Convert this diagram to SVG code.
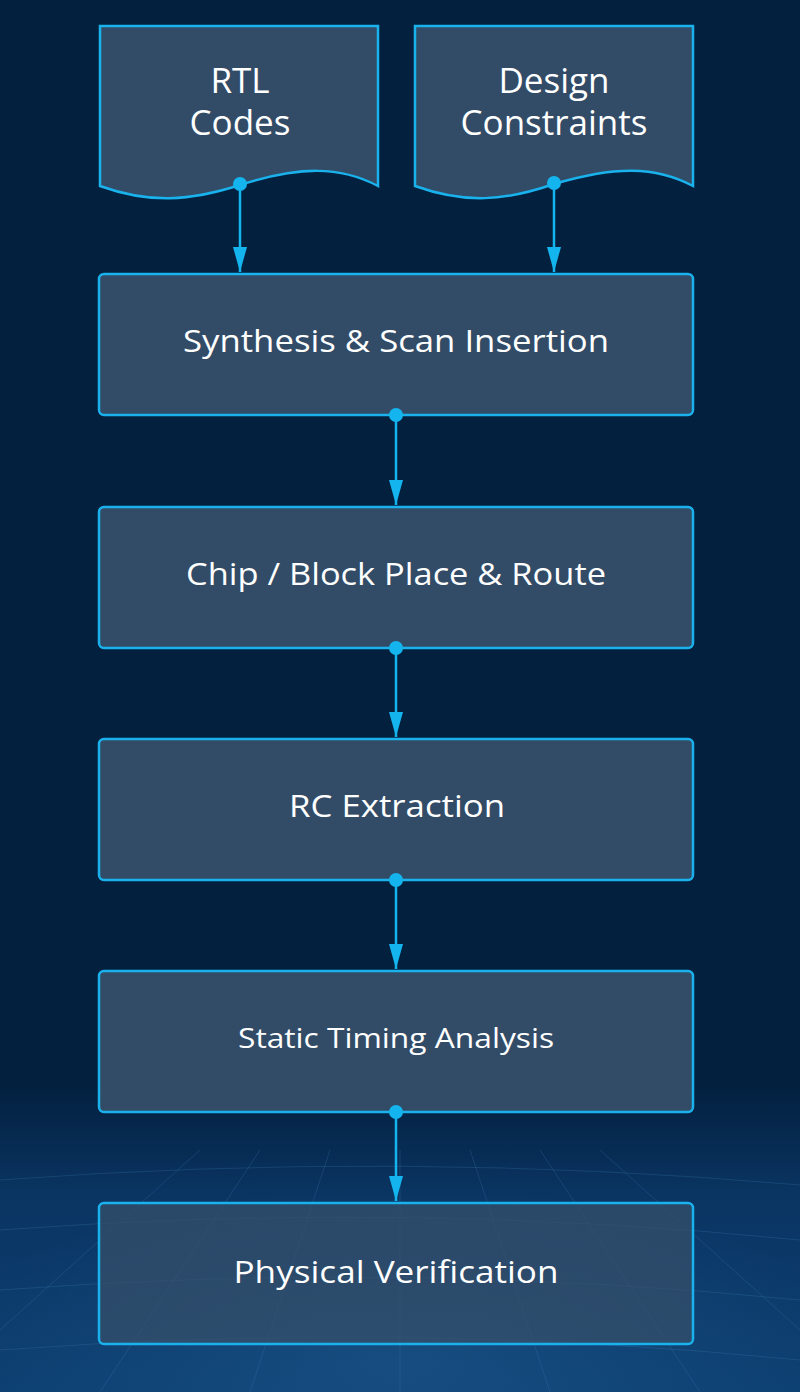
<svg xmlns="http://www.w3.org/2000/svg" width="800" height="1392" viewBox="0 0 800 1392">
<defs>
<linearGradient id="bg" x1="0" y1="0" x2="0" y2="1">
<stop offset="0" stop-color="#03203f"/>
<stop offset="0.78" stop-color="#03203f"/>
<stop offset="0.86" stop-color="#0a3563"/>
<stop offset="1" stop-color="#0c3e70"/>
</linearGradient>
<radialGradient id="glow" cx="0.5" cy="0.9" r="0.6">
<stop offset="0" stop-color="#2a6aa0" stop-opacity="0.35"/>
<stop offset="1" stop-color="#2a6aa0" stop-opacity="0"/>
</radialGradient>
<marker id="arr" viewBox="0 0 25 14" refX="25" refY="7" markerWidth="25" markerHeight="14" markerUnits="userSpaceOnUse" orient="auto">
<path d="M0,0 L25,7 L0,14 Z" fill="#14b4ee"/>
</marker>
</defs>
<style>
.box{fill:#354f6a;fill-opacity:0.95;stroke:#19b2ec;stroke-width:2.5}
.t{font-family:"Open Sans","DejaVu Sans",sans-serif;fill:#ffffff;text-anchor:middle}
.c{stroke:#14b4ee;stroke-width:2.5;fill:none}
.d{fill:#14b4ee}
.g{stroke:#3f7fb8;stroke-opacity:0.25;stroke-width:1;fill:none}
</style>
<rect width="800" height="1392" fill="url(#bg)"/>
<rect x="0" y="1100" width="800" height="292" fill="url(#glow)"/>
<g id="grid" class="g">
<path d="M0,1180 Q400,1150 800,1185"/>
<path d="M0,1230 Q400,1200 800,1240"/>
<path d="M0,1290 Q400,1260 800,1300"/>
<path d="M0,1350 Q400,1320 800,1360"/>
<path d="M100,1392 L260,1150"/>
<path d="M250,1392 L330,1150"/>
<path d="M400,1392 L400,1150"/>
<path d="M550,1392 L470,1150"/>
<path d="M700,1392 L540,1150"/>
<path d="M0,1330 L200,1150"/>
<path d="M800,1330 L600,1150"/>
</g>
<g id="rtl">
<path class="box" d="M100,26 L378,26 L378,186 C340,166 300,166 240,185 C190,201 150,204 100,186 Z"/>
<text class="t" font-size="35"><tspan x="240" y="93">RTL</tspan><tspan x="240" y="135">Codes</tspan></text>
</g>
<g id="constraints">
<path class="box" d="M415,26 L693,26 L693,186 C655,166 615,166 554,184 C505,201 465,204 415,186 Z"/>
<text class="t" font-size="35"><tspan x="554" y="93">Design</tspan><tspan x="554" y="135">Constraints</tspan></text>
</g>
<g id="synthesis">
<rect class="box" x="99" y="274" width="594" height="141" rx="5"/>
<text class="t" x="396" y="352" font-size="31" textLength="426" lengthAdjust="spacingAndGlyphs">Synthesis &amp; Scan Insertion</text>
</g>
<g id="pnr">
<rect class="box" x="99" y="507" width="594" height="141" rx="5"/>
<text class="t" x="396" y="585" font-size="31" textLength="420" lengthAdjust="spacingAndGlyphs">Chip / Block Place &amp; Route</text>
</g>
<g id="rc">
<rect class="box" x="99" y="739" width="594" height="141" rx="5"/>
<text class="t" x="397" y="817" font-size="31" textLength="216" lengthAdjust="spacingAndGlyphs">RC Extraction</text>
</g>
<g id="sta">
<rect class="box" x="99" y="971" width="594" height="141" rx="5"/>
<text class="t" x="396" y="1048" font-size="28" textLength="316" lengthAdjust="spacingAndGlyphs">Static Timing Analysis</text>
</g>
<g id="pv">
<rect class="box" x="99" y="1203" width="594" height="141" rx="5" style="fill-opacity:0.75"/>
<text class="t" x="396" y="1283" font-size="31" textLength="325" lengthAdjust="spacingAndGlyphs">Physical Verification</text>
</g>
<g id="connectors">
<path class="c" d="M240,185 L240,272" marker-end="url(#arr)"/>
<circle class="d" cx="240" cy="184" r="7"/>
<path class="c" d="M554,184 L554,272" marker-end="url(#arr)"/>
<circle class="d" cx="554" cy="183" r="7"/>
<path class="c" d="M396,415 L396,505" marker-end="url(#arr)"/>
<circle class="d" cx="396" cy="415" r="7"/>
<path class="c" d="M396,648 L396,737" marker-end="url(#arr)"/>
<circle class="d" cx="396" cy="648" r="7"/>
<path class="c" d="M396,880 L396,969" marker-end="url(#arr)"/>
<circle class="d" cx="396" cy="880" r="7"/>
<path class="c" d="M396,1112 L396,1201" marker-end="url(#arr)"/>
<circle class="d" cx="396" cy="1112" r="7"/>
</g>
</svg>
